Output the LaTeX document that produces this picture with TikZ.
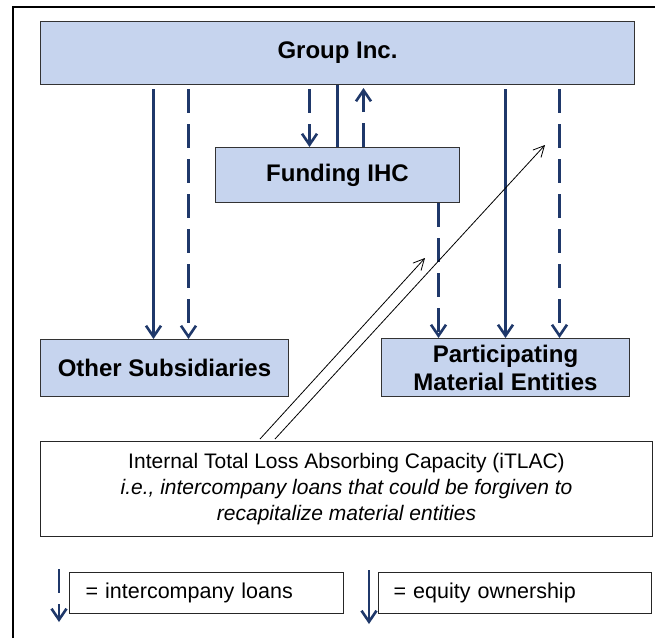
\documentclass[tikz,border=0pt]{standalone}
\usepackage{fontspec}
\setmainfont{Liberation Sans}
\usetikzlibrary{arrows.meta,calc}
\definecolor{boxblue}{RGB}{198,212,238}
\definecolor{navy}{RGB}{31,56,106}

\begin{document}
\begin{tikzpicture}[x=1pt,y=-1pt,
  entity/.style={rectangle,draw=black!80,line width=1pt,fill=boxblue,
    anchor=north west,inner sep=0pt,align=center,
    font=\fontsize{24}{28}\selectfont\bfseries},
  plainbox/.style={rectangle,draw=black!85,line width=1pt,fill=white,
    anchor=north west,inner sep=0pt},
  equity/.style={draw=navy,line width=2.6pt,
    -{Straight Barb[length=11pt,width=15pt]}},
  loan/.style={equity,dash pattern=on 24pt off 11pt},
  tlac/.style={draw=black,line width=0.8pt,
    -{Straight Barb[length=11pt,width=11pt]}}]
  \useasboundingbox (0,0) rectangle (655,638);
  %\draw[help lines,step=50] (0,0) grid (655,638);
  \draw[line width=1.5pt] (13,638) -- (13,7) -- (655,7);

\node[entity,minimum width=594,minimum height=63] (group)
  at (40,21) {Group Inc.};
\node[entity,minimum width=244,minimum height=55] (ihc)
  at (215,147) {Funding IHC};
\node[entity,minimum width=248,minimum height=57] (other)
  at (40,339) {Other Subsidiaries};
\node[entity,minimum width=248,minimum height=58] (pme)
  at (381,338) {Participating \\ Material Entities};
\node[plainbox,minimum width=612,minimum height=95,align=center,
  font=\fontsize{21}{26}\selectfont] (itlac)
  at (40,441)
  {
    Internal Total Loss Absorbing Capacity (iTLAC) \\
    \textit{i.e., intercompany loans that could be forgiven to} \\
    \textit{recapitalize material entities}
  };

% legend
\node[plainbox,text width=242,inner xsep=16,minimum height=41,align=left,
  font=\fontsize{21.5}{26}\selectfont] (loankey)
  at (69,572) {= intercompany loans};
\node[plainbox,text width=243,inner xsep=15,minimum height=41,align=left,
  font=\fontsize{21.5}{26}\selectfont] (equitykey)
  at (378,572) {= equity ownership};
\draw[loan] ($(loankey.north west)+(-10,-3)$) -- ($(loankey.north west)+(-10,50)$);
\draw[equity] ($(equitykey.north west)+(-9,-2)$) -- ($(equitykey.north west)+(-9,52)$);

% ownership and loans
\draw[equity] ($(group.south -| other.north)+(-11,4)$) -- ($(other.north)+(-11,0)$);
\draw[loan] ($(group.south -| other.north)+(24,4)$) -- ($(other.north)+(24,0)$);
\draw[loan] ($(group.south -| ihc.north)+(-28,4)$) -- ($(ihc.north)+(-28,0)$);
\draw[equity,-] (group.south -| ihc.north) -- (ihc.north);
\draw[loan] ($(ihc.north)+(26,0)$) -- ($(group.south -| ihc.north)+(26,3)$);
\draw[loan] ($(ihc.south -| pme.north)+(-67,0)$) -- ($(pme.north)+(-67,0)$);
\draw[equity] ($(group.south -| pme.north)+(0,4)$) -- (pme.north);
\draw[loan] ($(group.south -| pme.north)+(54,4)$) -- ($(pme.north)+(54,0)$);

% iTLAC
\coordinate (tlacA) at (425,258);
\coordinate (tlacB) at (545,145);
\draw[tlac] ($(itlac.north west)+(220,-2)$) -- (tlacA);
\draw[tlac] ($(itlac.north west)+(235,-2)$) -- (tlacB);
\end{tikzpicture}
\end{document}
